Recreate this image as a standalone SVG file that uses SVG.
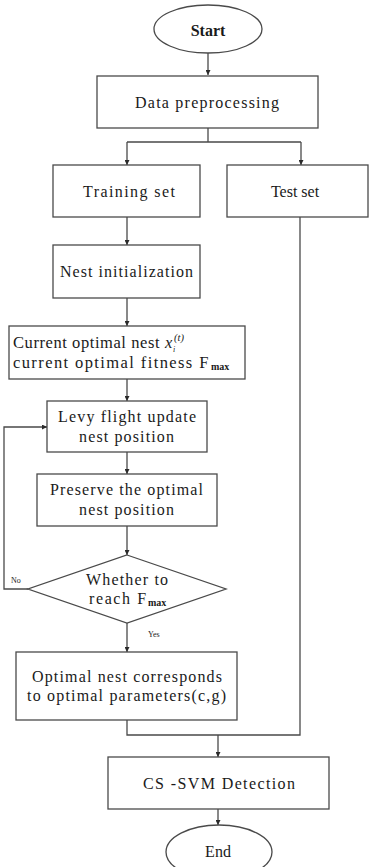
<svg xmlns="http://www.w3.org/2000/svg" width="369" height="867" viewBox="0 0 369 867">
<style>
.s{fill:#fff;stroke:#4a4a4a;stroke-width:1.3}
.t{font-family:"Liberation Serif","Times New Roman",serif;font-size:16px;fill:#1a1a1a}
.sm{font-family:"Liberation Serif","Times New Roman",serif;font-size:8px;fill:#1a1a1a}
.c{fill:none;stroke:#4a4a4a;stroke-width:1.3}
</style>
<defs>
<marker id="a" viewBox="0 0 10 10" refX="10" refY="5" markerWidth="5" markerHeight="5" orient="auto" markerUnits="userSpaceOnUse">
<path d="M0,0 L10,5 L0,10 Z" fill="#2a2a2a"/>
</marker>
</defs>
<rect width="369" height="867" fill="#fff"/>
<g id="connectors">
<path class="c" d="M208,53 V75" marker-end="url(#a)"/>
<path class="c" d="M208,128 V142 M127,142 H301"/>
<path class="c" d="M127,142 V165" marker-end="url(#a)"/>
<path class="c" d="M301,142 V165" marker-end="url(#a)"/>
<path class="c" d="M127,217 V245" marker-end="url(#a)"/>
<path class="c" d="M127,298 V326" marker-end="url(#a)"/>
<path class="c" d="M127,379 V401" marker-end="url(#a)"/>
<path class="c" d="M127,452 V474" marker-end="url(#a)"/>
<path class="c" d="M127,526 V555" marker-end="url(#a)"/>
<path class="c" d="M28,589 H4 V427 H47" marker-end="url(#a)"/>
<path class="c" d="M127,623 V652" marker-end="url(#a)"/>
<path class="c" d="M127,720 V735 H300 V217"/>
<path class="c" d="M218,735 V757" marker-end="url(#a)"/>
<path class="c" d="M218,809 V825" marker-end="url(#a)"/>
</g>
<g id="start">
<ellipse class="s" cx="208" cy="29" rx="54" ry="24"/>
<text class="t" x="208" y="36" text-anchor="middle" font-weight="bold">Start</text>
</g>
<g id="preprocessing">
<rect class="s" x="97" y="76" width="221" height="52"/>
<text class="t" x="135" y="108" textLength="144">Data preprocessing</text>
</g>
<g id="training">
<rect class="s" x="53" y="165" width="147" height="52"/>
<text class="t" x="83" y="197" textLength="92">Training set</text>
</g>
<g id="test">
<rect class="s" x="227" y="165" width="141" height="52"/>
<text class="t" x="295" y="197" text-anchor="middle">Test set</text>
</g>
<g id="nestinit">
<rect class="s" x="53" y="245" width="147" height="53"/>
<text class="t" x="60" y="277" textLength="133">Nest initialization</text>
</g>
<g id="current">
<rect class="s" x="9" y="326" width="236" height="53"/>
<text class="t" x="13" y="348" style="font-size:16.5px;letter-spacing:0.57px">Current optimal nest <tspan x="165" font-style="italic" letter-spacing="0">x</tspan><tspan x="173" font-size="8px" font-style="italic" dy="4" letter-spacing="0">i</tspan><tspan x="174" font-size="10.5px" font-style="italic" dy="-11" letter-spacing="0">(t)</tspan></text>
<text class="t" x="13" y="368" style="font-size:16.5px;letter-spacing:1.4px">current optimal fitness F<tspan x="211" font-size="10px" font-weight="bold" dy="2" letter-spacing="0">max</tspan></text>
</g>
<g id="levy">
<rect class="s" x="47" y="401" width="160" height="51"/>
<text class="t" x="58" y="422" textLength="138">Levy flight update</text>
<text class="t" x="79" y="442" textLength="95">nest position</text>
</g>
<g id="preserve">
<rect class="s" x="37" y="474" width="180" height="52"/>
<text class="t" x="50" y="495" textLength="153">Preserve the optimal</text>
<text class="t" x="79" y="515" textLength="95">nest position</text>
</g>
<g id="decision">
<polygon class="s" points="127,555 226,589 127,623 28,589"/>
<text class="t" x="86" y="585" textLength="82">Whether to</text>
<text class="t" x="89" y="604" style="letter-spacing:1.6px">reach F<tspan x="148" font-size="10px" font-weight="bold" dy="2" letter-spacing="0">max</tspan></text>
<text class="sm" x="11" y="583">No</text>
<text class="sm" x="148" y="637">Yes</text>
</g>
<g id="optimal">
<rect class="s" x="16" y="652" width="221" height="68"/>
<text class="t" x="32" y="682" textLength="190">Optimal nest corresponds</text>
<text class="t" x="27" y="701" textLength="199">to optimal parameters(c,g)</text>
</g>
<g id="detection">
<rect class="s" x="108" y="757" width="221" height="52"/>
<text class="t" x="143" y="789" textLength="152">CS -SVM Detection</text>
</g>
<g id="end">
<ellipse class="s" cx="219" cy="852" rx="53" ry="27"/>
<text class="t" x="218" y="857" text-anchor="middle">End</text>
</g>
</svg>
